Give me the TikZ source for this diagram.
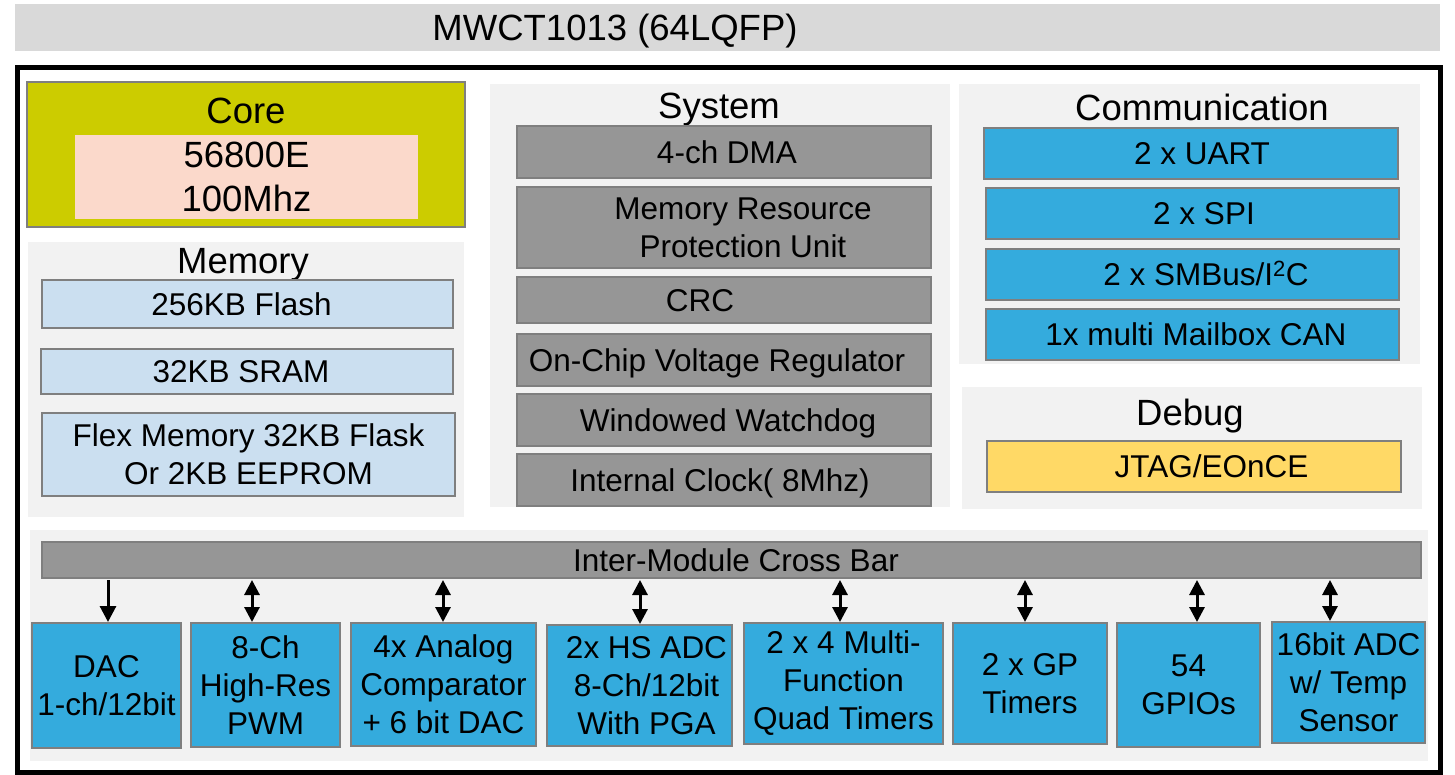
\documentclass[tikz,border=0pt]{standalone}
\usepackage{fontspec}
\setmainfont{Liberation Sans}
\usepackage{graphicx}
\usetikzlibrary{arrows.meta}
\definecolor{titlegray}{RGB}{217,217,217}
\definecolor{panelgray}{RGB}{242,242,242}
\definecolor{coreyel}{RGB}{204,204,0}
\definecolor{corepink}{RGB}{251,217,203}
\definecolor{memblue}{RGB}{203,223,240}
\definecolor{sysgray}{RGB}{150,150,150}
\definecolor{periblue}{RGB}{52,171,221}
\definecolor{jtagyel}{RGB}{255,217,102}
\definecolor{edgegray}{RGB}{127,127,127}
\begin{document}
\begin{tikzpicture}[x=1pt,y=-1pt,
  every node/.style={inner sep=0pt,outer sep=0pt},
  fA/.style={font=\fontsize{31.5}{38}\selectfont},
  fB/.style={font=\fontsize{36.5}{44}\selectfont},
  oneA/.style={text height=22.6pt,text depth=0pt},
  oneB/.style={text height=26.1pt,text depth=0pt},
  heading/.style={fB,oneB},
  panelbox/.style={fill=panelgray},
  itembox/.style={draw=edgegray,line width=2pt,fA,align=center},
  membox/.style={itembox,fill=memblue},
  sysbox/.style={itembox,fill=sysgray},
  combox/.style={itembox,fill=periblue},
  dbgbox/.style={itembox,fill=jtagyel},
  oneway/.style={line width=3pt,shorten <=2pt,shorten >=1pt,-{Triangle[width=16pt,length=16pt]}},
  twoway/.style={line width=3pt,shorten <=2pt,shorten >=1pt,{Triangle[width=15pt,length=15pt]}-{Triangle[width=15pt,length=15pt]}}
]
\useasboundingbox (0,0) rectangle (1455,775);

% title
\node[fill=titlegray,minimum width=1425,minimum height=47,heading] (titlebar) at (727.5,27.5)
  {\hspace*{-225pt}MWCT1013 (64LQFP)};

% chip frame
\node[draw=black,line width=5pt,minimum width=1422.5,minimum height=704.5] (chip) at (728.75,419.75) {};

% core
\node[draw=edgegray,line width=2pt,fill=coreyel,minimum width=438,minimum height=145] (core) at (246,154.5) {};
\node[heading] (coretitle) at (246,110) {Core};
\node[fill=corepink,fB,align=center,minimum width=343,minimum height=84] (cpu) at (246.5,177) {56800E\\100Mhz};

% memory
\node[panelbox,minimum width=436,minimum height=275] (mem) at (246,379.5) {};
\node[heading] (memtitle) at (243,260) {Memory};
\node[membox,oneA,minimum width=411,minimum height=48] (flash) at (247.5,304) {\hspace*{-12pt}256KB Flash};
\node[membox,oneA,minimum width=412,minimum height=45] (sram) at (247,371.5) {\hspace*{-12pt}32KB SRAM};
\node[membox,minimum width=413,minimum height=83] (flex) at (248.5,454.5) {Flex Memory 32KB Flask\\Or 2KB EEPROM};

% system
\node[panelbox,minimum width=460,minimum height=423] (sys) at (720,295.5) {};
\node[heading] (systitle) at (719,105) {System};
\node[sysbox,oneA,minimum width=414,minimum height=52] (dma) at (724,152) {\hspace*{6pt}4-ch DMA};
\node[sysbox,minimum width=414,minimum height=81] (mrpu) at (724,227.5) {\hspace*{38pt}Memory Resource\\\hspace*{38pt}Protection Unit};
\node[sysbox,oneA,minimum width=414,minimum height=46] (crc) at (724,300) {\hspace*{-48pt}CRC};
\node[sysbox,oneA,minimum width=414,minimum height=52] (vreg) at (724,360) {\hspace*{-14pt}On-Chip Voltage Regulator};
\node[sysbox,oneA,minimum width=414,minimum height=52] (wdog) at (724,420) {\hspace*{8pt}Windowed Watchdog};
\node[sysbox,oneA,minimum width=414,minimum height=52] (clk) at (724,480) {\hspace*{-8pt}Internal Clock( 8Mhz)};

% communication
\node[panelbox,minimum width=461,minimum height=280] (com) at (1189.5,224) {};
\node[heading] (comtitle) at (1202,107.5) {Communication};
\node[combox,oneA,minimum width=414,minimum height=51] (uart) at (1191,153.5) {\hspace*{22pt}2 x UART};
\node[combox,oneA,minimum width=413,minimum height=51] (spi) at (1192.5,213.5) {\hspace*{23pt}2 x SPI};
\node[combox,oneA,minimum width=413,minimum height=51] (iic) at (1192.5,274.5) {\hspace*{27pt}2 x SMBus/I\textsuperscript{2}C};
\node[combox,oneA,minimum width=413,minimum height=51] (can) at (1192.5,334.5) {\hspace*{7pt}1x multi Mailbox CAN};

% debug
\node[panelbox,minimum width=460,minimum height=122] (dbg) at (1192,448) {};
\node[heading] (dbgtitle) at (1190,412.5) {Debug};
\node[dbgbox,oneA,minimum width=414,minimum height=51] (jtag) at (1194,466.5) {\hspace*{35pt}JTAG/EOnCE};

% peripherals
\node[panelbox,minimum width=1398,minimum height=231] (peri) at (729,645.5) {};
\node[sysbox,oneA,minimum width=1379,minimum height=36] (bar) at (731.5,560) {\hspace*{9pt}Inter-Module Cross Bar};
\node[combox,minimum width=149,minimum height=125] (dac) at (106.5,685.5) {DAC\\1-ch/12bit};
\node[combox,minimum width=149,minimum height=124] (pwm) at (265.5,685) {8-Ch\\High-Res\\PWM};
\node[combox,minimum width=185,minimum height=123] (cmp) at (443.5,684.5) {4x Analog\\Comparator\\+ 6 bit DAC};
\node[combox,minimum width=185,minimum height=121] (hsadc) at (639.5,685.5) {\hspace*{14pt}2x HS ADC\\\hspace*{14pt}8-Ch/12bit\\\hspace*{14pt}With PGA};
\node[combox,minimum width=199,minimum height=121] (quad) at (843.5,683.5) {2 x 4 Multi-\\Function\\Quad Timers};
\node[combox,minimum width=154,minimum height=121] (gpt) at (1030,683.5) {2 x GP\\Timers};
\node[combox,minimum width=143,minimum height=124] (gpio) at (1188.5,685) {54\\GPIOs};
\node[combox,minimum width=153,minimum height=121] (adc16) at (1348.5,682.5) {16bit ADC\\w/ Temp\\Sensor};

% connectors
\draw[oneway] (bar.south -| 108,0) -- (dac.north -| 108,0);
\draw[twoway] (bar.south -| 252,0) -- (pwm.north -| 252,0);
\draw[twoway] (bar.south -| 443,0) -- (cmp.north -| 443,0);
\draw[twoway] (bar.south -| 640,0) -- (hsadc.north -| 640,0);
\draw[twoway] (bar.south -| 840,0) -- (quad.north -| 840,0);
\draw[twoway] (bar.south -| 1025,0) -- (gpt.north -| 1025,0);
\draw[twoway] (bar.south -| 1197,0) -- (gpio.north -| 1197,0);
\draw[twoway] (bar.south -| 1330,0) -- (adc16.north -| 1330,0);
\end{tikzpicture}
\end{document}
